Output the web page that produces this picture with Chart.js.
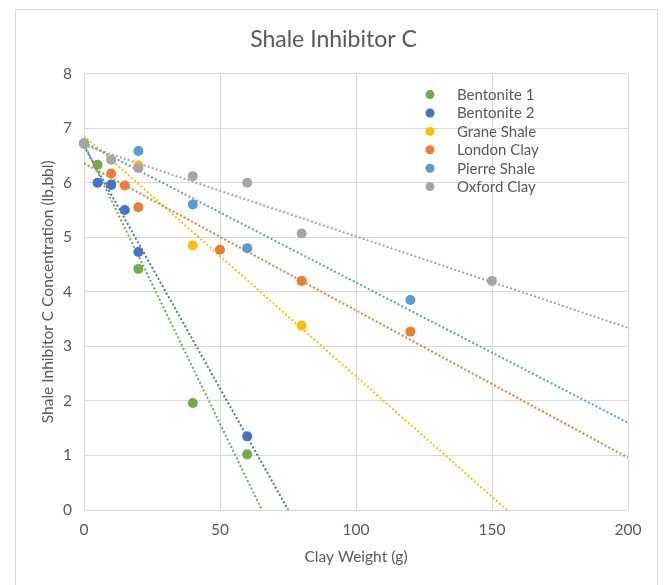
<!DOCTYPE html>
<html>
<head>
<meta charset="utf-8">
<script src="https://cdn.jsdelivr.net/npm/chart.js@4.4.1/dist/chart.umd.min.js"></script>
<style>
  html, body { margin: 0; padding: 0; background: #fff; }
  #frame {
    position: absolute; left: 15px; top: 9px; width: 643px; height: 600px;
    border: 1px solid #d9d9d9; box-sizing: border-box;
  }
  #wrap { position: absolute; left: 0; top: 0; width: 668px; height: 585px; }
</style>
</head>
<body>
<div id="frame"></div>
<div id="wrap"><canvas id="chart" width="668" height="585"></canvas></div>
<script>
// Series
const seriesNames = ["Bentonite 1", "Bentonite 2", "Grane Shale", "London Clay", "Pierre Shale", "Oxford Clay"];
const seriesColors = ["#70AD47", "#4472C4", "#FFC000", "#ED7D31", "#5B9BD5", "#A5A5A5"];

const bentonite1X = [0, 5, 10, 20, 40, 60];
const bentonite1Y = [6.72, 6.33, 5.97, 4.42, 1.96, 1.02];
const bentonite2X = [0, 5, 10, 15, 20, 60];
const bentonite2Y = [6.72, 6.0, 5.96, 5.5, 4.73, 1.35];
const graneX = [0, 20, 40, 80];
const graneY = [6.72, 6.32, 4.85, 3.38];
const londonX = [10, 15, 20, 50, 80, 120];
const londonY = [6.17, 5.95, 5.55, 4.77, 4.2, 3.27];
const pierreX = [0, 20, 40, 60, 120];
const pierreY = [6.72, 6.58, 5.6, 4.8, 3.85];
const oxfordX = [0, 10, 20, 40, 60, 80, 150];
const oxfordY = [6.72, 6.42, 6.27, 6.12, 6.0, 5.07, 4.2];

// Trendlines: start at x = 0, end point
const trendFromY = [6.71, 6.67, 6.86, 6.36, 6.74, 6.69];
const trendToX = [65.4, 75.1, 155.5, 200, 200, 200];
const trendToY = [0, 0, 0, 0.96, 1.6, 3.34];

// Axes
const xTicks = [0, 50, 100, 150, 200];
const yTicks = [0, 1, 2, 3, 4, 5, 6, 7, 8];

const allX = [bentonite1X, bentonite2X, graneX, londonX, pierreX, oxfordX];
const allY = [bentonite1Y, bentonite2Y, graneY, londonY, pierreY, oxfordY];

const FONT = "Lato";
const TEXT = "#595959";

const datasets = [];
seriesNames.forEach((name, i) => {
  datasets.push({
    label: name,
    data: allX[i].map((x, k) => ({ x: x, y: allY[i][k] })),
    backgroundColor: seriesColors[i],
    borderColor: seriesColors[i],
    pointRadius: 5,
    pointHoverRadius: 5,
    pointBorderWidth: 0,
    showLine: false,
    clip: false,
    order: 6 - i,
  });
});
seriesNames.forEach((name, i) => {
  datasets.push({
    label: name + " trend",
    data: [{ x: 0, y: trendFromY[i] }, { x: trendToX[i], y: trendToY[i] }],
    borderColor: seriesColors[i],
    borderWidth: 2,
    borderDash: [2, 2.2],
    pointRadius: 0,
    showLine: true,
    fill: false,
    order: 20 - i,
  });
});

// Legend drawn inside the plot area, like the original
const insideLegend = {
  id: "insideLegend",
  afterDraw(chart) {
    const ctx = chart.ctx;
    const area = chart.chartArea;
    const mx = area.left + 346;
    const tx = area.left + 373;
    ctx.save();
    ctx.font = "15px " + FONT;
    ctx.textBaseline = "middle";
    ctx.textAlign = "left";
    seriesNames.forEach((name, i) => {
      const y = area.top + 21 + i * 18.4;
      ctx.fillStyle = seriesColors[i];
      ctx.beginPath();
      ctx.arc(mx, y, 4.5, 0, Math.PI * 2);
      ctx.fill();
      ctx.fillStyle = TEXT;
      ctx.fillText(name, tx, y + 0.5);
    });
    ctx.restore();
  },
};

const ctx = document.getElementById("chart").getContext("2d");
new Chart(ctx, {
  type: "scatter",
  data: { datasets: datasets },
  plugins: [insideLegend],
  options: {
    responsive: false,
    animation: false,
    events: [],
    layout: { padding: { left: 39, right: 40, top: 0, bottom: 15 } },
    plugins: {
      legend: { display: false },
      tooltip: { enabled: false },
      title: {
        display: true,
        text: "Shale Inhibitor C",
        color: TEXT,
        font: { family: FONT, size: 23, weight: "normal" },
        padding: { top: 26, bottom: 20 },
      },
    },
    scales: {
      x: {
        type: "linear",
        min: 0,
        max: 200,
        afterFit: (s) => { s.height = 60; },
        afterBuildTicks: (s) => { s.ticks = xTicks.map((v) => ({ value: v })); },
        grid: { color: "#d9d9d9", drawTicks: false },
        border: { display: false },
        ticks: { color: TEXT, font: { family: FONT, size: 15.5 }, padding: 11 },
        title: {
          display: true,
          text: "Clay Weight (g)",
          color: TEXT,
          font: { family: FONT, size: 15.5 },
          padding: { top: 6 },
        },
      },
      y: {
        type: "linear",
        min: 0,
        max: 8,
        afterFit: (s) => { s.width = 45; },
        afterBuildTicks: (s) => { s.ticks = yTicks.map((v) => ({ value: v })); },
        grid: { color: "#d9d9d9", drawTicks: false },
        border: { display: false },
        ticks: { color: TEXT, font: { family: FONT, size: 15.5 }, padding: 12 },
        title: {
          display: true,
          text: "Shale Inhibitor C Concentration (lb,bbl)",
          color: TEXT,
          font: { family: FONT, size: 15.5 },
          padding: { top: 0, bottom: 0 },
        },
      },
    },
  },
});
</script>
</body>
</html>
